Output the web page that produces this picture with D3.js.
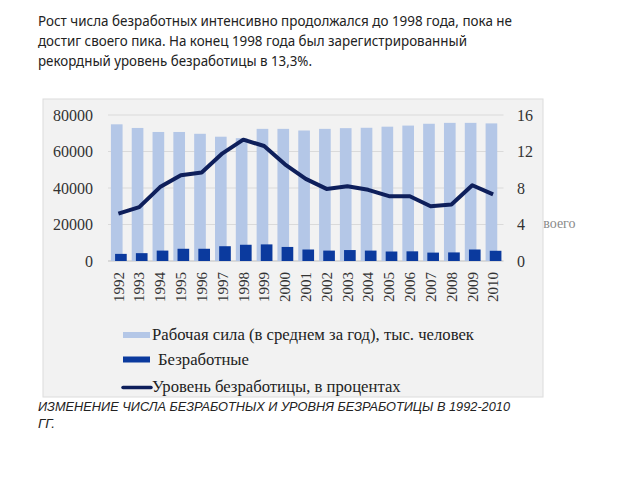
<!DOCTYPE html>
<html><head><meta charset="utf-8">
<script src="https://cdn.jsdelivr.net/npm/d3@7"></script>
<style>body{margin:0;background:#fff}svg{display:block}</style>
</head><body>
<script>
const years = ["1992","1993","1994","1995","1996","1997","1998","1999","2000","2001","2002","2003","2004","2005","2006","2007","2008","2009","2010"];
const laborForce = [74900,72900,70700,70700,69700,68100,67300,72400,72400,71500,72400,72800,73000,73600,74200,75200,75700,75700,75400];
const unemployed = [3900,4300,5700,6700,6700,8100,8900,9100,7700,6300,5700,6000,5700,5200,5300,4600,4700,6300,5600];
const unemploymentRate = [5.2,5.9,8.1,9.4,9.7,11.8,13.3,12.6,10.6,9.0,7.9,8.2,7.8,7.1,7.1,6.0,6.2,8.3,7.3];
const leftTicks = [0,20000,40000,60000,80000];
const rightTicks = [0,4,8,12,16];
const legendLabels = ["Рабочая сила (в среднем за год), тыс. человек","Безработные","Уровень безработицы, в процентах"];
const titleLines = ["Рост числа безработных интенсивно продолжался до 1998 года, пока не","достиг своего пика. На конец 1998 года был зарегистрированный","рекордный уровень безработицы в 13,3%."];
const captionLines = ["ИЗМЕНЕНИЕ ЧИСЛА БЕЗРАБОТНЫХ И УРОВНЯ БЕЗРАБОТИЦЫ В 1992-2010","ГГ."];

const svg = d3.select("body").append("svg").attr("width",640).attr("height",480);
const serif = "'Liberation Serif','Times New Roman',serif";
const sans = "'Noto Sans','Open Sans',sans-serif";
const arial = "'Liberation Sans',Arial,sans-serif";

// title
const titleW = [474, 429, 274];
svg.selectAll("text.title").data(titleLines).join("text")
  .attr("class","title").attr("x",38).attr("y",(d,i)=>26+i*20)
  .attr("font-family",sans).attr("font-size",14.5).attr("fill","#222")
  .attr("textLength",(d,i)=>titleW[i]).attr("lengthAdjust","spacingAndGlyphs")
  .text(d=>d);

// stray text behind panel
svg.append("text").attr("x",537).attr("y",228).attr("font-family",serif)
  .attr("font-size",14).attr("fill","#8a8a8a").text("своего");

// panel
svg.append("rect").attr("x",43).attr("y",99).attr("width",500).attr("height",298)
  .attr("fill","#f2f2f2").attr("stroke","#dcdcdc");

const x = d3.scaleBand().domain(years).range([108,503.5]).padding(0);
const yL = d3.scaleLinear().domain([0,80000]).range([261,115]);
const yR = d3.scaleLinear().domain([0,16]).range([261,115]);
const bw = x.bandwidth();

// gridlines
svg.append("g").selectAll("line").data(leftTicks).join("line")
  .attr("x1",108).attr("x2",503.5).attr("y1",d=>yL(d)).attr("y2",d=>yL(d))
  .attr("stroke",d=>d===0?"#bfbfbf":"#dadada").attr("stroke-width",1);

// left axis
const axL = svg.append("g").attr("transform","translate(96,0)")
  .call(d3.axisLeft(yL).tickValues(leftTicks).tickSize(0).tickPadding(3).tickFormat(d3.format("d")));
axL.select(".domain").remove();
axL.selectAll("text").attr("font-family",serif).attr("font-size",16).attr("fill","#333");

// right axis
const axR = svg.append("g").attr("transform","translate(514,0)")
  .call(d3.axisRight(yR).tickValues(rightTicks).tickSize(0).tickPadding(3));
axR.select(".domain").remove();
axR.selectAll("text").attr("font-family",serif).attr("font-size",16).attr("fill","#333");

// bars
svg.append("g").selectAll("rect").data(years).join("rect")
  .attr("x",d=>x(d)+bw*0.14).attr("width",bw*0.56)
  .attr("y",(d,i)=>yL(laborForce[i])).attr("height",(d,i)=>yL(0)-yL(laborForce[i]))
  .attr("fill","#b4c7e7");
svg.append("g").selectAll("rect").data(years).join("rect")
  .attr("x",d=>x(d)+bw*0.34).attr("width",bw*0.56)
  .attr("y",(d,i)=>yL(unemployed[i])).attr("height",(d,i)=>yL(0)-yL(unemployed[i]))
  .attr("fill","#0b3a9e");

// line
const line = d3.line().x((d,i)=>x(years[i])+bw/2).y(d=>yR(d));
svg.append("path").datum(unemploymentRate).attr("d",line)
  .attr("fill","none").attr("stroke","#0e1f5b").attr("stroke-width",4)
  .attr("stroke-linejoin","round");

// x axis labels
const axX = svg.append("g").attr("transform","translate(0,261)")
  .call(d3.axisBottom(x).tickSize(0));
axX.select(".domain").remove();
axX.selectAll("text").attr("font-family",serif).attr("font-size",15).attr("fill","#333")
  .attr("transform","rotate(-90)").attr("text-anchor","end")
  .attr("x",-11).attr("y",0).attr("dy","0.35em");

// legend
const lg = svg.append("g");
lg.append("rect").attr("x",123).attr("y",332).attr("width",27).attr("height",6).attr("fill","#b4c7e7");
lg.append("rect").attr("x",123).attr("y",356.5).attr("width",27).attr("height",6).attr("fill","#0b3a9e");
lg.append("line").attr("x1",123).attr("x2",151).attr("y1",387.5).attr("y2",387.5)
  .attr("stroke","#0e1f5b").attr("stroke-width",3.5).attr("stroke-linecap","round");
const lx = [152,158,152], ly = [340,365,392];
lg.selectAll("text").data(legendLabels).join("text")
  .attr("x",(d,i)=>lx[i]).attr("y",(d,i)=>ly[i])
  .attr("font-family",serif).attr("font-size",16.7).attr("fill","#222").text(d=>d);

// caption
svg.selectAll("text.cap").data(captionLines).join("text")
  .attr("class","cap").attr("x",38).attr("y",(d,i)=>411+i*17)
  .attr("font-family",arial).attr("font-style","italic").attr("font-size",13.5).attr("fill","#222")
  .attr("textLength",(d,i)=>i===0?472:null).attr("lengthAdjust","spacingAndGlyphs")
  .text(d=>d);
</script>
</body></html>
